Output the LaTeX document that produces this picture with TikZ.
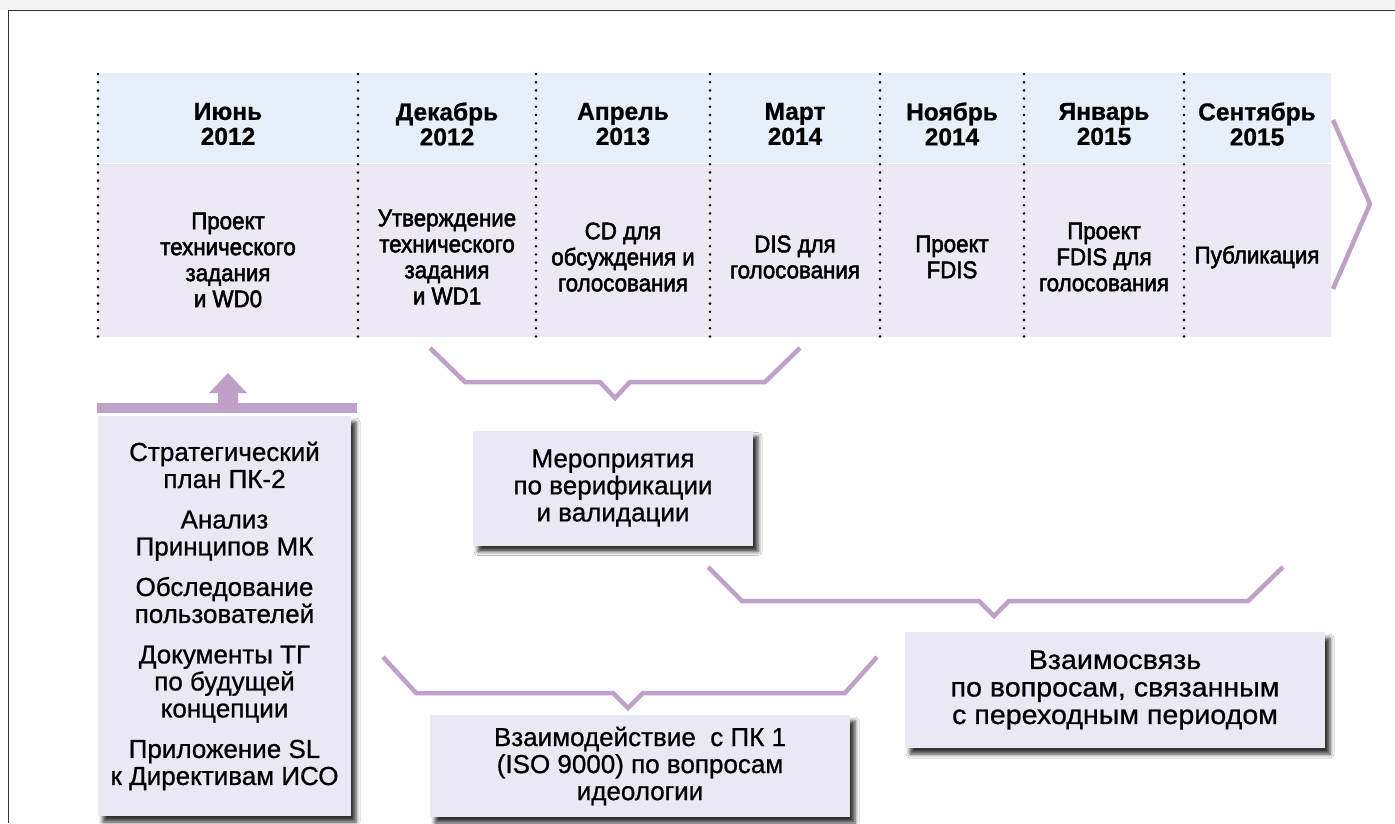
\documentclass[tikz,border=0pt]{standalone}
\usepackage{fontspec}
\setmainfont{Liberation Sans}
\newfontfamily\descfont{Liberation Sans}[FakeBold=2.2,FakeStretch=0.93]
\newfontfamily\monthfont{Liberation Sans}[BoldFeatures={FakeBold=0.8}]
\newfontfamily\boxfont{Liberation Sans}[FakeBold=0.8]
\newfontfamily\widefont{Liberation Sans}[FakeBold=0.8,FakeStretch=1.06]
\usetikzlibrary{shadows.blur}
\definecolor{hdr}{RGB}{231,240,250}
\definecolor{dsc}{RGB}{236,233,245}
\definecolor{plum}{RGB}{191,160,200}
\definecolor{boxfill}{RGB}{234,232,245}
\definecolor{topgray}{RGB}{243,243,243}
\tikzset{
  dotline/.style={line width=2.8pt, line cap=round, dash pattern=on 0pt off 8.2pt, black},
  month/.style={align=center, inner sep=0pt, font=\monthfont\bfseries\fontsize{24.5}{25}\selectfont},
  desc/.style={align=center, inner sep=0pt, font=\descfont\fontsize{24}{26}\selectfont},
  plumline/.style={line width=4.5pt, plum},
  box/.style={fill=boxfill, inner sep=0pt, align=center,
    blur shadow={shadow xshift=5pt, shadow yshift=-6pt, shadow blur radius=4pt, shadow opacity=80},
    font=\boxfont\fontsize{26}{27}\selectfont},
}
\begin{document}
\begin{tikzpicture}[x=1pt,y=-1pt]
\useasboundingbox (0,0) rectangle (1395,823);
\fill[white] (0,0) rectangle (1395,823);
\fill[topgray] (0,0) rectangle (1395,10);
\draw[line width=1pt, black!80] (8,823) -- (8,10) -- (1395,10);

% timeline bands
\fill[hdr] (98,73) rectangle (1331,163);
\fill[dsc] (98,164) rectangle (1331,337);
\foreach \x in {98,358,536,710,880,1024,1184}
  \draw[dotline] (\x,74) -- (\x,337);

% months
\node[month] (m1) at (228,124) {Июнь\\2012};
\node[month] (m2) at (447,124) {Декабрь\\2012};
\node[month] (m3) at (623,124) {Апрель\\2013};
\node[month] (m4) at (795,124) {Март\\2014};
\node[month] (m5) at (952,124) {Ноябрь\\2014};
\node[month] (m6) at (1104,124) {Январь\\2015};
\node[month] (m7) at (1257,124) {Сентябрь\\2015};

% descriptions
\node[desc] (d1) at (228,260) {Проект\\технического\\задания\\и WD0};
\node[desc] (d2) at (447,257) {Утверждение\\технического\\задания\\и WD1};
\node[desc] (d3) at (623,257) {CD для\\обсуждения и\\голосования};
\node[desc] (d4) at (795,257) {DIS для\\голосования};
\node[desc] (d5) at (952,257) {Проект\\FDIS};
\node[desc] (d6) at (1104,257) {Проект\\FDIS для\\голосования};
\node[desc] (d7) at (1257,257) {Публикация};

% chevron
\draw[plumline] (1333,120) -- (1370,204) -- (1333,289);

% brackets
\draw[plumline] (430,348) -- (465,382) -- (600,382) -- (615,398) -- (630,382) -- (765,382) -- (800,348);
\draw[plumline] (708,567) -- (742,601) -- (979,601) -- (994,616) -- (1009,601) -- (1248,601) -- (1283,567);
\draw[plumline] (383,657) -- (416,693) -- (613,693) -- (628,708) -- (643,693) -- (845,693) -- (877,657);

% left box with bar and arrow
\fill[plum] (97,403) rectangle (357,413);
\fill[plum] (218,404) -- (218,393) -- (209,393) -- (228,373) -- (247,393) -- (238,393) -- (238,404) -- cycle;
\node[box, minimum width=253pt, minimum height=400pt] (left) at (224.5,616)
  {Стратегический\\план ПК-2\\[13.5pt]Анализ\\Принципов МК\\[13.5pt]Обследование\\пользователей\\[13.5pt]Документы ТГ\\по будущей\\концепции\\[13.5pt]Приложение SL\\к Директивам ИСО};

% other boxes
\node[box, minimum width=280pt, minimum height=115pt] (verif) at (613,488)
  {Мероприятия\\по верификации\\и валидации};
\node[box, minimum width=420pt, minimum height=116pt, font=\widefont\fontsize{27}{27.5}\selectfont] (trans) at (1115,690)
  {Взаимосвязь\\по вопросам, связанным\\с переходным периодом};
\node[box, minimum width=420pt, minimum height=102pt] (iso) at (640,766)
  {Взаимодействие\ \ с ПК 1\\(ISO 9000) по вопросам\\идеологии};
\end{tikzpicture}
\end{document}
